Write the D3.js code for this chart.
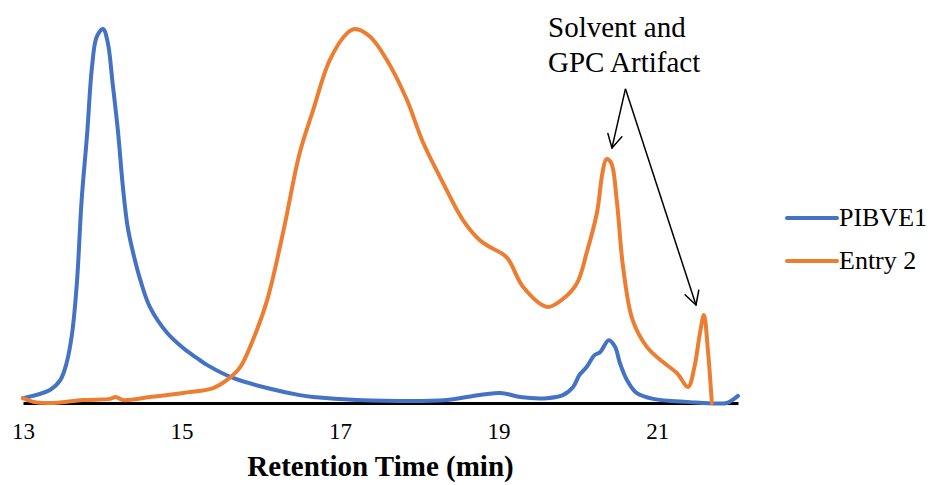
<!DOCTYPE html>
<html>
<head>
<meta charset="utf-8">
<script src="https://cdn.jsdelivr.net/npm/d3@7"></script>
<style>
  html, body { margin: 0; padding: 0; background: #fff; }
  svg { display: block; }
  text { font-family: "Liberation Serif", "Times New Roman", serif; fill: #000; }
</style>
</head>
<body>
<svg id="chart" width="934" height="485"></svg>
<script>
// Retention time (min) and normalised detector response for each trace
const pibveTime = [13.00, 13.34, 13.47, 13.55, 13.62, 13.68, 13.74, 13.81, 13.87, 13.93, 14.01, 14.07, 14.13, 14.20, 14.26, 14.32, 14.39, 14.48, 14.60, 14.82, 15.02, 15.14, 15.23, 15.32, 15.65, 16.08, 16.49, 16.66, 17.21, 18.35, 18.60, 19.02, 19.27, 19.61, 19.81, 19.94, 20.02, 20.11, 20.21, 20.28, 20.39, 20.47, 20.53, 20.62, 20.74, 20.95, 21.37, 21.88, 21.95, 22.02];
const pibveSignal = [0.013, 0.035, 0.061, 0.107, 0.187, 0.321, 0.543, 0.722, 0.898, 0.979, 1.000, 0.963, 0.856, 0.722, 0.578, 0.471, 0.401, 0.329, 0.257, 0.187, 0.147, 0.128, 0.115, 0.102, 0.067, 0.040, 0.021, 0.016, 0.008, 0.008, 0.016, 0.027, 0.016, 0.013, 0.021, 0.043, 0.075, 0.096, 0.128, 0.136, 0.168, 0.150, 0.107, 0.061, 0.027, 0.011, 0.003, 0.000, 0.008, 0.019];

const entryTime = [13.00, 13.13, 13.34, 13.76, 14.10, 14.17, 14.26, 14.60, 15.02, 15.40, 15.57, 15.74, 15.90, 16.08, 16.28, 16.49, 16.66, 16.87, 17.09, 17.19, 17.38, 17.59, 17.84, 18.04, 18.30, 18.55, 18.76, 18.89, 19.10, 19.31, 19.61, 19.81, 19.99, 20.11, 20.24, 20.31, 20.36, 20.42, 20.49, 20.57, 20.69, 20.87, 21.07, 21.25, 21.39, 21.47, 21.54, 21.59, 21.64, 21.69];
const entrySignal = [0.013, 0.003, 0.000, 0.008, 0.011, 0.016, 0.008, 0.016, 0.027, 0.040, 0.061, 0.096, 0.168, 0.275, 0.455, 0.668, 0.783, 0.917, 0.989, 1.000, 0.979, 0.917, 0.812, 0.700, 0.588, 0.489, 0.436, 0.417, 0.390, 0.310, 0.257, 0.278, 0.321, 0.401, 0.508, 0.615, 0.652, 0.642, 0.543, 0.364, 0.222, 0.150, 0.110, 0.080, 0.043, 0.096, 0.187, 0.235, 0.142, 0.000];

const seriesNames = ["PIBVE1", "Entry 2"];
const seriesColors = ["#4472C4", "#ED7D31"];
const xTicks = [13, 15, 17, 19, 21];
const xTitle = "Retention Time (min)";

// Callout: label lines, arrow origin and the two peaks it points to (data units)
const noteLines = ["Solvent and", "GPC Artifact"];
const noteFrom = [20.60, 0.840];
const noteTargets = [[20.43, 0.682], [21.49, 0.262]];

const svg = d3.select("#chart");
const plot = { left: 23, right: 738, top: 29, bottom: 403 };

const x = d3.scaleLinear().domain([13, 22.02]).range([plot.left, plot.right]);
const y = d3.scaleLinear().domain([0, 1]).range([plot.bottom, plot.top]);

svg.append("rect").attr("width", 934).attr("height", 485).attr("fill", "#fff");

// Horizontal axis: heavy baseline, labels only
const xAxis = d3.axisBottom(x).tickValues(xTicks).tickSize(0).tickPadding(20).tickFormat(d3.format("d"));
const gx = svg.append("g").attr("transform", `translate(0,${plot.bottom})`).call(xAxis);
gx.select(".domain").attr("stroke", "#000").attr("stroke-width", 3);
gx.selectAll(".tick text").attr("font-size", 23).attr("fill", "#000");

svg.append("text")
  .attr("x", (plot.left + plot.right) / 2).attr("y", 476)
  .attr("text-anchor", "middle")
  .attr("font-size", 29).attr("font-weight", "bold")
  .text(xTitle);

// Traces
const line = d3.line()
  .x(d => x(d[0])).y(d => y(d[1]))
  .curve(d3.curveCatmullRom.alpha(0.5));

const traces = [
  d3.zip(pibveTime, pibveSignal),
  d3.zip(entryTime, entrySignal)
];

traces.forEach((pts, i) => {
  svg.append("path")
    .datum(pts)
    .attr("fill", "none")
    .attr("stroke", seriesColors[i])
    .attr("stroke-width", 4)
    .attr("stroke-linejoin", "round")
    .attr("stroke-linecap", "round")
    .attr("d", line);
});

// Legend
const legend = svg.append("g").attr("transform", "translate(787,218)");
seriesNames.forEach((name, i) => {
  const row = legend.append("g").attr("transform", `translate(0,${i * 43})`);
  row.append("line").attr("x1", 0).attr("x2", 50).attr("y1", 0).attr("y2", 0)
    .attr("stroke", seriesColors[i]).attr("stroke-width", 4).attr("stroke-linecap", "round");
  row.append("text").attr("x", 52).attr("y", 8).attr("font-size", 26).text(name);
});

// Callout text and arrows
const note = svg.append("text").attr("x", 548).attr("y", 37).attr("font-size", 29);
noteLines.forEach((t, i) => {
  note.append("tspan").attr("x", 548).attr("dy", i === 0 ? 0 : 35).text(t);
});

const ox = x(noteFrom[0]), oy = y(noteFrom[1]);
noteTargets.forEach(([tx, ty]) => {
  const ex = x(tx), ey = y(ty);
  svg.append("line").attr("x1", ox).attr("y1", oy).attr("x2", ex).attr("y2", ey)
    .attr("stroke", "#000").attr("stroke-width", 1.5);
  const ang = Math.atan2(ey - oy, ex - ox);
  const len = 15, spread = 0.5;
  [ang + Math.PI - spread, ang + Math.PI + spread].forEach(a => {
    svg.append("line")
      .attr("x1", ex).attr("y1", ey)
      .attr("x2", ex + len * Math.cos(a)).attr("y2", ey + len * Math.sin(a))
      .attr("stroke", "#000").attr("stroke-width", 1.5).attr("stroke-linecap", "round");
  });
});
</script>
</body>
</html>
